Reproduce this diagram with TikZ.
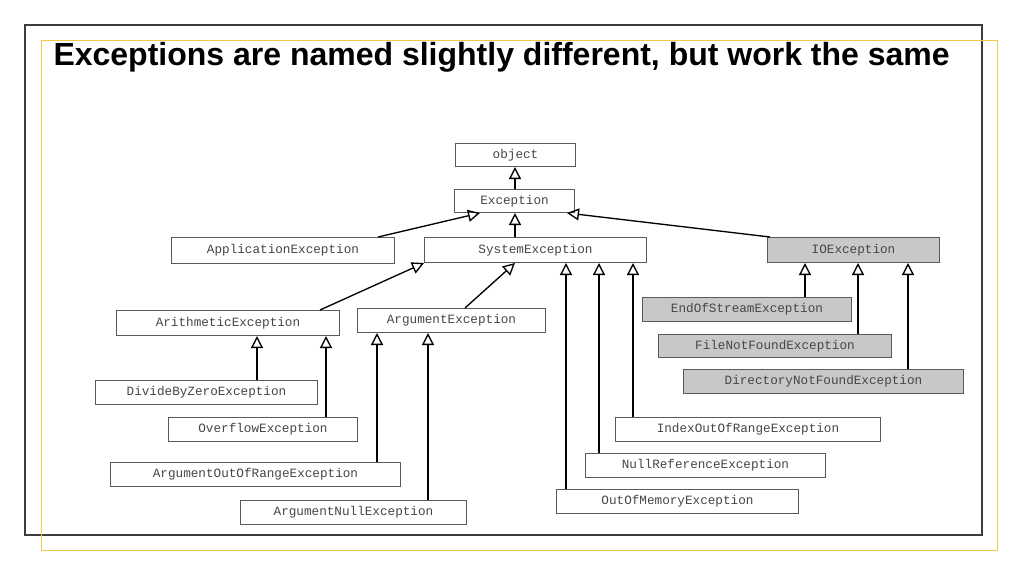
\documentclass[tikz,border=0pt]{standalone}
\usepackage{fontspec}
\setmainfont{Liberation Sans}
\newfontfamily\boxfont{Liberation Mono}
\usetikzlibrary{arrows.meta}

\tikzset{every picture/.style={line width=0.75pt}}
\tikzset{
  cls/.style={draw={rgb,255:red,90;green,90;blue,90}, fill=white, inner sep=0pt, anchor=north west,
    font=\boxfont\fontsize{9.5}{11}\selectfont, text={rgb,255:red,70;green,70;blue,70}},
  iocls/.style={cls, fill={rgb,255:red,200;green,200;blue,200}},
  inh/.style={-{Triangle[open,length=9pt,width=9pt]}, line width=1pt}
}

\begin{document}
\begin{tikzpicture}[x=0.75pt,y=0.75pt,yscale=-1,xscale=1]
\useasboundingbox (0,0) rectangle (1024,576);

% frames
\draw [color={rgb, 255:red, 60; green, 60; blue, 60 }, line width=1.2pt] (25,25) rectangle (982,535);
\draw [color={rgb, 255:red, 238; green, 200; blue, 70 }] (41,40) rectangle (997,550);

% Title
\node (title) [anchor=west, inner sep=0pt, font=\bfseries\fontsize{24}{28}\selectfont] at (53,57) {Exceptions are named slightly different, but work the same};

% Classes
\node (obj) [cls, minimum width=90pt, minimum height=17.25pt] at (455,143) {object};
\node (exc) [cls, minimum width=90pt, minimum height=17.25pt] at (454,189) {Exception};
\node (app) [cls, minimum width=167.25pt, minimum height=19.5pt] at (171,237) {ApplicationException};
\node (sys) [cls, minimum width=166.5pt, minimum height=18.75pt] at (424,237) {SystemException};
\node (io) [iocls, minimum width=129pt, minimum height=18.75pt] at (767,237) {IOException};
\node (ari) [cls, minimum width=167.25pt, minimum height=18.75pt] at (116,310) {ArithmeticException};
\node (arg) [cls, minimum width=141pt, minimum height=18pt] at (357,308) {ArgumentException};
\node (eos) [iocls, minimum width=156.75pt, minimum height=18pt] at (642,297) {EndOfStreamException};
\node (fnf) [iocls, minimum width=174.75pt, minimum height=17.25pt] at (658,334) {FileNotFoundException};
\node (dnf) [iocls, minimum width=210pt, minimum height=18pt] at (683,369) {DirectoryNotFoundException};
\node (dbz) [cls, minimum width=166.5pt, minimum height=18pt] at (95,380) {DivideByZeroException};
\node (ovf) [cls, minimum width=141.75pt, minimum height=18pt] at (168,417) {OverflowException};
\node (ior) [cls, minimum width=198.75pt, minimum height=18pt] at (615,417) {IndexOutOfRangeException};
\node (nre) [cls, minimum width=180pt, minimum height=18pt] at (585,453) {NullReferenceException};
\node (aor) [cls, minimum width=217.5pt, minimum height=18pt] at (110,462) {ArgumentOutOfRangeException};
\node (oom) [cls, minimum width=181.5pt, minimum height=18pt] at (556,489) {OutOfMemoryException};
\node (anl) [cls, minimum width=169.5pt, minimum height=18pt] at (240,500) {ArgumentNullException};

% Inheritance
\draw [inh] (exc.north -| 515,0) -- (obj.south -| 515,0);
\draw [inh] (sys.north -| 515,0) -- (exc.south -| 515,0);
\draw [inh] (app.north -| 378,0) -- (exc.south -| 480,0);
\draw [inh] (io.north -| 770,0) -- (exc.south -| 567,0);
\draw [inh] (ari.north -| 320,0) -- (sys.south west);
\draw [inh] (arg.north -| 465,0) -- (sys.south -| 515,0);
\draw [inh] (oom.north -| 566,0) -- (sys.south -| 566,0);
\draw [inh] (nre.north -| 599,0) -- (sys.south -| 599,0);
\draw [inh] (ior.north -| 633,0) -- (sys.south -| 633,0);
\draw [inh] (eos.north -| 805,0) -- (io.south -| 805,0);
\draw [inh] (fnf.north -| 858,0) -- (io.south -| 858,0);
\draw [inh] (dnf.north -| 908,0) -- (io.south -| 908,0);
\draw [inh] (dbz.north -| 257,0) -- (ari.south -| 257,0);
\draw [inh] (ovf.north -| 326,0) -- (ari.south -| 326,0);
\draw [inh] (aor.north -| 377,0) -- (arg.south -| 377,0);
\draw [inh] (anl.north -| 428,0) -- (arg.south -| 428,0);

\end{tikzpicture}
\end{document}
